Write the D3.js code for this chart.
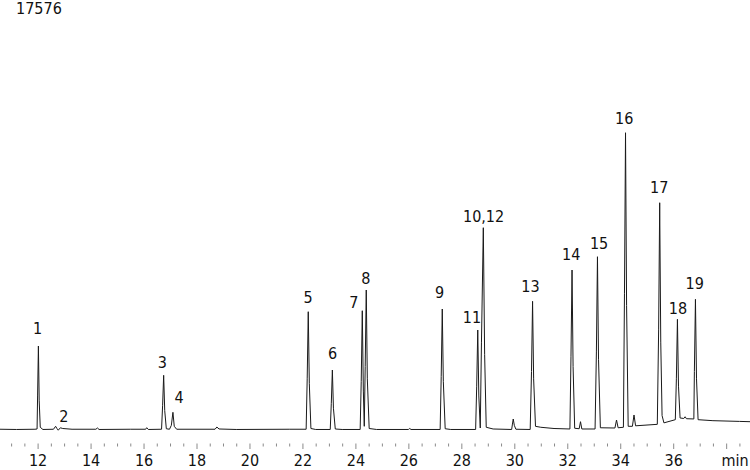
<!DOCTYPE html>
<html>
<head>
<meta charset="utf-8">
<script src="https://cdn.jsdelivr.net/npm/d3@7/dist/d3.min.js"></script>
<style>
  html, body { margin: 0; padding: 0; background: #fff; }
  svg { display: block; }
  text { font-family: "DejaVu Sans Condensed", "Liberation Sans", sans-serif; font-size: 16px; fill: #111; }
</style>
</head>
<body>
<svg id="chart" width="750" height="470"></svg>
<script>
// ---- data (time in min, intensity in counts) ----
const yMaxLabel = "17576";
const yMax = 17576;
const timeRange = [10.58, 38.9];
const majorTicks = [12, 14, 16, 18, 20, 22, 24, 26, 28, 30, 32, 34, 36, 38];
const axisUnit = "min";

// chromatogram trace: [time, intensity]
const trace = [
  [10.58, 440], [11.2, 430], [11.9, 440], [11.98, 450], [12.00, 1800], [12.03, 3842],
  [12.06, 1600], [12.10, 520], [12.2, 430], [12.6, 440], [12.68, 560], [12.73, 470],
  [12.78, 400], [12.86, 500], [12.95, 470], [13.3, 440], [14.2, 440], [14.26, 490],
  [14.32, 430], [15.5, 440], [16.08, 440], [16.12, 503], [16.18, 430], [16.68, 440],
  [16.72, 1400], [16.76, 2644], [16.80, 1200], [16.86, 460], [16.98, 440], [17.05, 600],
  [17.11, 1132], [17.16, 560], [17.25, 440], [18.7, 440], [18.77, 531], [18.85, 450],
  [19.5, 430], [21.5, 440], [22.14, 440], [22.18, 2500], [22.22, 5244], [22.26, 2300],
  [22.32, 470], [22.5, 430], [23.05, 430], [23.09, 1500], [23.13, 2861], [23.17, 1300],
  [23.24, 450], [23.5, 430], [24.18, 430], [24.22, 2400], [24.26, 5284], [24.30, 2000],
  [24.335, 560], [24.37, 3000], [24.41, 6131], [24.45, 2500], [24.52, 470], [24.8, 430],
  [26.0, 430], [26.05, 470], [26.1, 430], [27.2, 430], [27.24, 2600], [27.28, 5354],
  [27.32, 2400], [27.39, 460], [27.6, 430], [28.54, 430], [28.58, 2200], [28.62, 4496],
  [28.66, 1800], [28.715, 490], [28.76, 4000], [28.83, 8677], [28.88, 3500], [28.94, 520],
  [29.2, 450], [29.9, 430], [29.93, 650], [29.96, 858], [30.0, 600], [30.06, 440],
  [30.6, 430], [30.65, 2800], [30.69, 5669], [30.73, 2500], [30.80, 560], [31.0, 520],
  [31.5, 470], [32.1, 450], [32.14, 3400], [32.18, 6948], [32.22, 3000], [32.28, 480],
  [32.45, 460], [32.5, 748], [32.55, 450], [33.05, 450], [33.10, 3600], [33.14, 7491],
  [33.18, 3300], [33.25, 500], [33.8, 490], [33.86, 817], [33.92, 500], [34.12, 520],
  [34.16, 6000], [34.20, 12559], [34.24, 5500], [34.30, 560], [34.46, 560], [34.52, 1022],
  [34.58, 580], [35.4, 640], [35.45, 4500], [35.49, 9698], [35.53, 4000], [35.58, 1000],
  [35.65, 700], [36.08, 830], [36.12, 2500], [36.16, 4933], [36.20, 2200], [36.26, 900],
  [36.4, 880], [36.45, 950], [36.5, 870], [36.78, 860], [36.80, 2800], [36.84, 5750],
  [36.88, 2500], [36.94, 830], [37.5, 790], [38.5, 760], [38.9, 748]
];

// peak labels: name, anchor time, anchor intensity
const peakNames  = ["1", "2", "3", "4", "5", "6", "7", "8", "9", "10,12", "11", "13", "14", "15", "16", "17", "18", "19"];
const peakTimes  = [12.00, 12.99, 16.71, 17.34, 22.21, 23.14, 23.94, 24.39, 27.18, 28.84, 28.40, 30.61, 32.15, 33.20, 34.15, 35.47, 36.18, 36.81];
const peakLabelY = [4320, 748, 2930, 1500, 5587, 3298, 5383, 6376, 5791, 8922, 4770, 6061, 7357, 7806, 12903, 10107, 5137, 6159];

// ---- drawing ----
const W = 750, H = 470;
const svg = d3.select("#chart");

const x = d3.scaleLinear().domain(timeRange).range([0, W]);
const y = d3.scaleLinear().domain([0, yMax]).range([440, 10]);

// minor ticks every 0.5 min
const minorTicks = d3.range(11, 38.51, 0.5).filter(t => !majorTicks.includes(t));

const axisG = svg.append("g").attr("transform", "translate(0,443.5)");
axisG.append("g")
  .call(d3.axisBottom(x).tickValues(minorTicks).tickSize(3).tickFormat(""))
  .call(g => g.select(".domain").remove())
  .call(g => g.selectAll("line").attr("stroke", "#8a8a8a"));

axisG.append("g")
  .call(d3.axisBottom(x).tickValues(majorTicks).tickSize(5.5)
        .tickFormat(d => d === 38 ? "" : String(d)))
  .call(g => g.select(".domain").remove())
  .call(g => g.selectAll("line").attr("stroke", "#8a8a8a"))
  .call(g => g.selectAll("text")
        .attr("y", 0).attr("dy", 0)
        .attr("transform", "translate(0,22.5)")
        .style("font-family", '"DejaVu Sans Condensed", "Liberation Sans", sans-serif')
        .style("font-size", "16px")
        .attr("fill", "#111"));

svg.append("text")
  .attr("x", x(38) + 9).attr("y", 466)
  .attr("text-anchor", "middle")
  .text(axisUnit);

// y max label
svg.append("text").attr("x", 16).attr("y", 13.5).text(yMaxLabel);

// trace
const line = d3.line().x(d => x(d[0])).y(d => y(d[1]));
svg.append("path")
  .datum(trace)
  .attr("d", line)
  .attr("fill", "none")
  .attr("stroke", "#1a1a1a")
  .attr("stroke-width", 1)
  .attr("stroke-linejoin", "round");

// peak labels
svg.append("g").selectAll("text")
  .data(peakNames)
  .join("text")
  .attr("x", (d, i) => x(peakTimes[i]))
  .attr("y", (d, i) => y(peakLabelY[i]))
  .attr("text-anchor", "middle")
  .text(d => d);
</script>
</body>
</html>
